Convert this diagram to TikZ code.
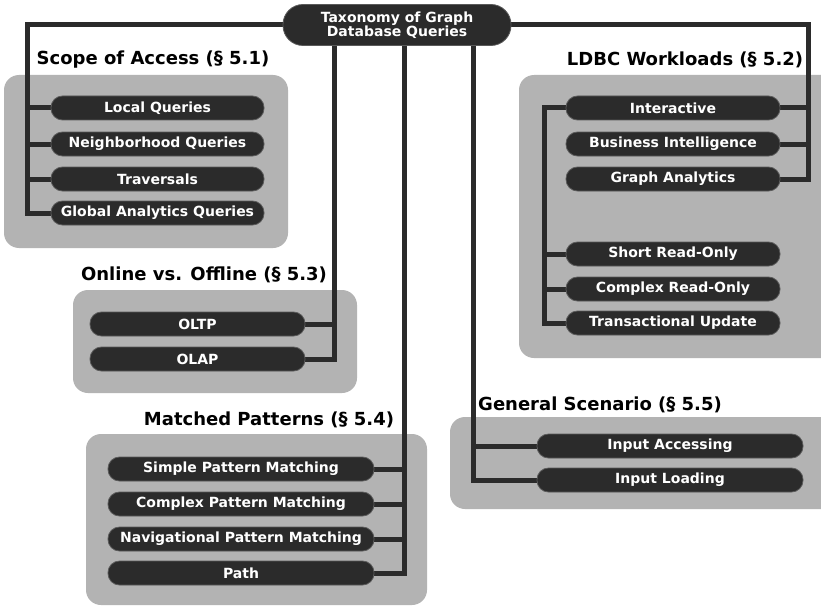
\documentclass[tikz,border=0pt]{standalone}
\usepackage{fontspec}
\setmainfont{DejaVu Sans}
\pgfdeclarelayer{back}
\pgfdeclarelayer{mid}
\pgfsetlayers{back,mid,main}
\definecolor{pillc}{HTML}{2B2B2B}
\definecolor{pilledge}{HTML}{5A5A5A}
\definecolor{boxc}{HTML}{B3B3B3}
\definecolor{linec}{HTML}{2B2B2B}
\tikzset{
  pill/.style={fill=pillc, draw=pilledge, line width=0.8pt, rounded corners=11.5pt,
    minimum height=24pt, inner sep=0pt, text=white,
    font=\fontsize{14}{16}\selectfont\bfseries},
  rootpill/.style={fill=pillc, draw=pilledge, line width=0.8pt, rounded corners=20pt,
    minimum height=41pt, minimum width=228pt, inner sep=0pt, text=white, align=center,
    font=\fontsize{14}{14}\selectfont\bfseries},
  grp/.style={fill=boxc, rounded corners=15pt},
  conn/.style={draw=linec, line width=5pt},
  ttl/.style={font=\fontsize{18}{20}\selectfont\bfseries, inner sep=0pt, text=black}
}
\begin{document}
\begin{tikzpicture}[x=1pt,y=-1pt]
\useasboundingbox (0,0) rectangle (821,607);
\clip (0,0) rectangle (821,607);
% group boxes
\begin{pgfonlayer}{back}
\fill[white] (0,0) rectangle (821,607);
\fill[grp] (4,75) rectangle (288,248);
\fill[grp] (73,290) rectangle (357,393);
\fill[grp] (86,434) rectangle (427,605);
\fill[grp] (450,417) rectangle (845,509);
\fill[grp] (519,75) rectangle (845,358);
\end{pgfonlayer}
% bus coordinates
\coordinate (xa) at (27,0);
\coordinate (xb) at (334,0);
\coordinate (xc) at (404,0);
\coordinate (xd) at (473,0);
\coordinate (xe) at (808,0);
\coordinate (xf) at (544,0);
% root
\node[rootpill] (root) at (397,25) {Taxonomy of Graph\\Database Queries};
% titles
\node[ttl] (t1) at (153,60) {Scope of Access (§ 5.1)};
\node[ttl] (t2) at (685,60) {LDBC Workloads (§ 5.2)};
\node[ttl] (t3) at (204,275) {Online vs. Offline (§ 5.3)};
\node[ttl] (t4) at (269,420) {Matched Patterns (§ 5.4)};
\node[ttl] (t5) at (600,405) {General Scenario (§ 5.5)};
% scope of access
\node[pill, minimum width=213pt] (lq) at (157.5,108) {Local Queries};
\node[pill, minimum width=213pt] (nq) at (157.5,144) {Neighborhood Queries};
\node[pill, minimum width=213pt] (tr) at (157.5,179) {Traversals};
\node[pill, minimum width=213pt] (gaq) at (157.5,213) {Global Analytics Queries};
% LDBC
\node[pill, minimum width=214pt] (inter) at (673,108) {Interactive};
\node[pill, minimum width=214pt] (bi) at (673,144) {Business Intelligence};
\node[pill, minimum width=214pt] (ga) at (673,179) {Graph Analytics};
\node[pill, minimum width=214pt] (sro) at (673,254) {Short Read-Only};
\node[pill, minimum width=214pt] (cro) at (673,289) {Complex Read-Only};
\node[pill, minimum width=214pt] (tu) at (673,323) {Transactional Update};
% online vs offline
\node[pill, minimum width=215pt] (oltp) at (197.5,324) {OLTP};
\node[pill, minimum width=215pt] (olap) at (197.5,359) {OLAP};
% matched patterns
\node[pill, minimum width=266pt] (spm) at (241,469) {Simple Pattern Matching};
\node[pill, minimum width=266pt] (cpm) at (241,504) {Complex Pattern Matching};
\node[pill, minimum width=266pt] (npm) at (241,539) {Navigational Pattern Matching};
\node[pill, minimum width=266pt] (path) at (241,573) {Path};
% general scenario
\node[pill, minimum width=266pt] (ia) at (670,446) {Input Accessing};
\node[pill, minimum width=266pt] (il) at (670,480) {Input Loading};
% connectors
\begin{pgfonlayer}{mid}
\draw[conn] (root.west) -| (gaq.west -| xa) -- (gaq.west);
\draw[conn] (lq.west -| xa) -- (lq.west);
\draw[conn] (nq.west -| xa) -- (nq.west);
\draw[conn] (tr.west -| xa) -- (tr.west);
\draw[conn] (root.south -| xb) |- (olap.east);
\draw[conn] (oltp.east) -- (oltp.east -| xb);
\draw[conn] (root.south -| xc) |- (path.east);
\draw[conn] (spm.east) -- (spm.east -| xc);
\draw[conn] (cpm.east) -- (cpm.east -| xc);
\draw[conn] (npm.east) -- (npm.east -| xc);
\draw[conn] (root.south -| xd) |- (il.west);
\draw[conn] (ia.west -| xd) -- (ia.west);
\draw[conn] (root.east) -| (ga.east -| xe) -- (ga.east);
\draw[conn] (inter.east) -- (inter.east -| xe);
\draw[conn] (bi.east) -- (bi.east -| xe);
\draw[conn] (inter.west) -| (tu.west -| xf) -- (tu.west);
\draw[conn] (sro.west -| xf) -- (sro.west);
\draw[conn] (cro.west -| xf) -- (cro.west);
\end{pgfonlayer}
\end{tikzpicture}
\end{document}
